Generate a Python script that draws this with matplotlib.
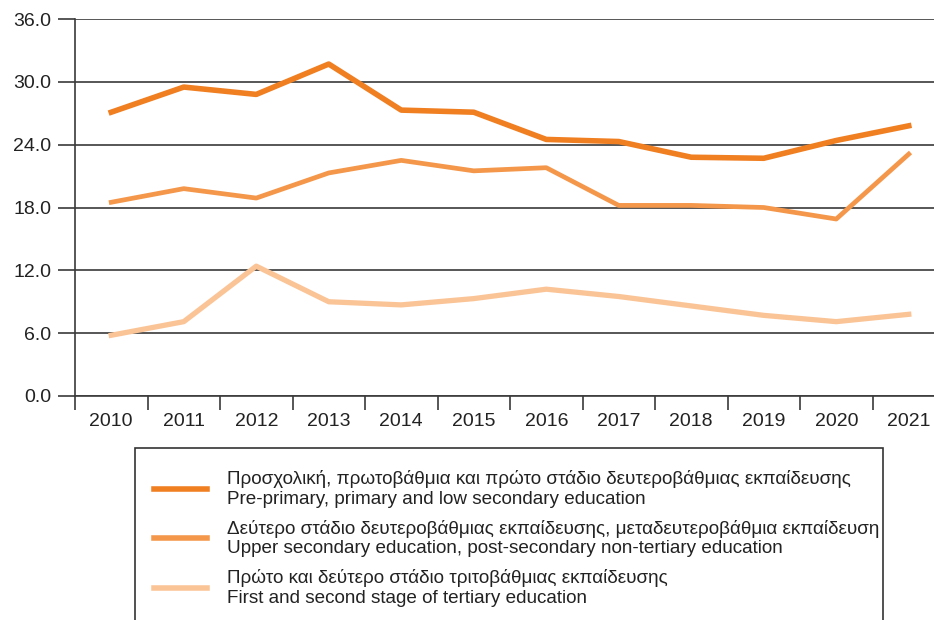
import matplotlib.pyplot as plt
from matplotlib.lines import Line2D
from matplotlib.patches import Rectangle

plt.rcParams['font.family'] = ['Liberation Sans', 'DejaVu Sans']

years = ['2010', '2011', '2012', '2013', '2014', '2015',
         '2016', '2017', '2018', '2019', '2020', '2021']
low_secondary = [27.1, 29.5, 28.8, 31.7, 27.3, 27.1, 24.5, 24.3, 22.8, 22.7, 24.4, 25.8]
upper_secondary = [18.5, 19.8, 18.9, 21.3, 22.5, 21.5, 21.8, 18.2, 18.2, 18.0, 16.9, 23.1]
tertiary = [5.8, 7.1, 12.4, 9.0, 8.7, 9.3, 10.2, 9.5, 8.6, 7.7, 7.1, 7.8]

labels = ['Προσχολική, πρωτοβάθμια και πρώτο στάδιο δευτεροβάθμιας εκπαίδευσης\n'
          'Pre-primary, primary and low secondary education',
          'Δεύτερο στάδιο δευτεροβάθμιας εκπαίδευσης, μεταδευτεροβάθμια εκπαίδευση\n'
          'Upper secondary education, post-secondary non-tertiary education',
          'Πρώτο και δεύτερο στάδιο τριτοβάθμιας εκπαίδευσης\n'
          'First and second stage of tertiary education']
colors = ['#F07F22', '#F4974A', '#FBC497']

W, H = 934, 620
fig = plt.figure(figsize=(W / 100, H / 100), dpi=100)
ax = fig.add_axes([75 / W, 1 - 396 / H, 870 / W, 377 / H])

x = range(len(years))
ax.plot(x, low_secondary, color=colors[0], lw=4.0, zorder=3)
ax.plot(x, upper_secondary, color=colors[1], lw=3.4, zorder=3)
ax.plot(x, tertiary, color=colors[2], lw=3.8, zorder=3)

ax.set_xlim(-0.5, len(years) - 0.5)
ax.set_ylim(0, 36)
ax.set_yticks([0, 6, 12, 18, 24, 30, 36])
ax.set_yticklabels([f'{v:.1f}' for v in [0, 6, 12, 18, 24, 30, 36]])
ax.yaxis.grid(True, color='#3a3a3a', lw=1.2)
ax.set_axisbelow(True)

# year labels sit between the tick marks
ax.set_xticks([i - 0.5 for i in x])
ax.set_xticklabels([])
ax.set_xticks(list(x), minor=True)
ax.set_xticklabels(years, minor=True)
ax.tick_params(axis='x', which='minor', length=0, pad=12)
ax.tick_params(axis='x', which='major', length=10, width=1.2, color='#3a3a3a')
ax.tick_params(axis='y', length=12, width=1.2, color='#3a3a3a', pad=5)
ax.tick_params(labelsize=14, labelcolor='#222222', which='both')

for s in ['top', 'right']:
    ax.spines[s].set_visible(False)
ax.spines['left'].set_color('#3a3a3a')
ax.spines['bottom'].set_color('#3a3a3a')
ax.spines['left'].set_linewidth(1.2)
ax.spines['bottom'].set_linewidth(1.2)

# legend box
fig.patches.append(Rectangle((135 / W, -0.1), (883 - 135) / W, (1 - 448 / H) + 0.1,
                             transform=fig.transFigure, fill=False,
                             edgecolor='#333333', lw=1.2))
handles = [Line2D([], [], color=c, lw=4) for c in colors]
fig.legend(handles, labels, loc='upper left', bbox_to_anchor=(145 / W, 1 - 461 / H),
           frameon=False, borderpad=0, handlelength=2.8, handletextpad=1.05,
           labelspacing=0.62, fontsize=13.6, labelcolor='#222222')

fig.savefig('out.png', dpi=100)
